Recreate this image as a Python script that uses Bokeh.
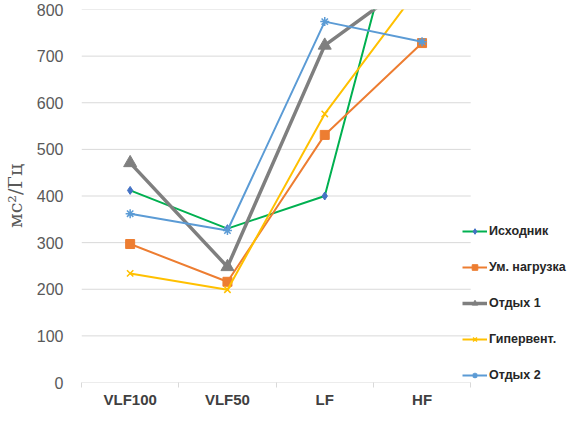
from bokeh.plotting import figure
from bokeh.models import Range1d, FixedTicker, Legend, LegendItem
from bokeh.embed import file_html
from bokeh.resources import INLINE

categories = ["VLF100", "VLF50", "LF", "HF"]
iskhodnik = [412, 330, 400, 1190]
um_nagruzka = [297, 216, 531, 728]
otdykh1 = [471, 248, 723, 875]
giperv = [234, 199, 576, 855]
otdykh2 = [362, 326, 774, 731]
series_names = ["Исходник", "Ум. нагрузка", "Отдых 1", "Гипервент.", "Отдых 2"]
y_ticks = [0, 100, 200, 300, 400, 500, 600, 700, 800]

series_values = [iskhodnik, um_nagruzka, otdykh1, giperv, otdykh2]
line_colors = ["#00B050", "#ED7D31", "#7F7F7F", "#FFC000", "#5B9BD5"]
marker_colors = ["#4472C4", "#ED7D31", "#7F7F7F", "#FFC000", "#5B9BD5"]
markers = ["diamond", "square", "triangle", "x", "asterisk"]
marker_sizes = [8, 9, 13, 9, 9]
line_widths = [2, 2, 3.5, 2, 2]

n = len(categories)
xs = [i + 0.5 for i in range(n)]

W, H = 567, 410
LEFT, TOP = 80, 9
CAT_AREA = 390          # pixel width of the category area
FRAME_W = W - LEFT      # frame extends to the right edge to host the legend
BOTTOM = 26

p = figure(width=W, height=H, output_backend="svg", toolbar_location=None,
           x_range=Range1d(0, n * FRAME_W / CAT_AREA), y_range=Range1d(0, 800),
           min_border_left=LEFT, min_border_right=0, min_border_top=TOP,
           min_border_bottom=BOTTOM)
p.outline_line_color = None
p.background_fill_color = "white"
p.border_fill_color = "white"
p.xgrid.grid_line_color = None
p.ygrid.grid_line_color = None

# horizontal gridlines limited to the category area
p.multi_line(xs=[[0, n] for _ in y_ticks], ys=[[t, t] for t in y_ticks],
             line_color="#d9d9d9", line_width=1)

items = []
for name, vals, lc, mc, mk, ms, lw in zip(series_names, series_values, line_colors,
                                          marker_colors, markers, marker_sizes, line_widths):
    r1 = p.line(xs, vals, line_color=lc, line_width=lw)
    if mk in ("x", "asterisk"):
        r2 = p.scatter(xs, vals, marker=mk, size=ms, line_color=mc, line_width=1.5)
    else:
        r2 = p.scatter(xs, vals, marker=mk, size=ms, fill_color=mc, line_color=mc)
    items.append(LegendItem(label=name, renderers=[r1, r2]))

legend = Legend(items=items, location=(381, 0), padding=0, margin=0, spacing=22,
                glyph_width=25, glyph_height=14, label_height=14, label_standoff=2,
                label_text_font="Liberation Sans", label_text_font_style="bold",
                label_text_font_size="12.5px", label_text_color="#262626",
                background_fill_alpha=0, border_line_color=None)
p.add_layout(legend, "center")

# y axis
p.yaxis.ticker = FixedTicker(ticks=y_ticks)
p.yaxis.axis_line_color = None
p.yaxis.major_tick_line_color = None
p.yaxis.minor_tick_line_color = None
p.yaxis.major_tick_in = 0
p.yaxis.major_tick_out = 0
p.yaxis.major_label_standoff = 18
p.yaxis.major_label_text_font = "Liberation Sans"
p.yaxis.major_label_text_font_size = "16px"
p.yaxis.major_label_text_color = "#595959"
p.yaxis.axis_label = "мс²/Гц"
p.yaxis.axis_label_text_font = "DejaVu Serif"
p.yaxis.axis_label_text_font_style = "normal"
p.yaxis.axis_label_text_font_size = "19px"
p.yaxis.axis_label_text_color = "#595959"
p.yaxis.axis_label_standoff = 8

# x axis
p.xaxis.ticker = FixedTicker(ticks=xs, minor_ticks=list(range(n + 1)))
p.xaxis.major_label_overrides = {x: c for x, c in zip(xs, categories)}
p.xaxis.axis_line_color = None
p.xaxis.major_tick_line_color = None
p.xaxis.major_tick_in = 0
p.xaxis.major_tick_out = 0
p.xaxis.minor_tick_line_color = "#d9d9d9"
p.xaxis.minor_tick_in = 0
p.xaxis.minor_tick_out = 5
p.xaxis.major_label_standoff = 3
p.xaxis.major_label_text_font = "Liberation Sans"
p.xaxis.major_label_text_font_style = "bold"
p.xaxis.major_label_text_font_size = "15px"
p.xaxis.major_label_text_color = "#404040"

open("out.html", "w").write(file_html(p, INLINE))
